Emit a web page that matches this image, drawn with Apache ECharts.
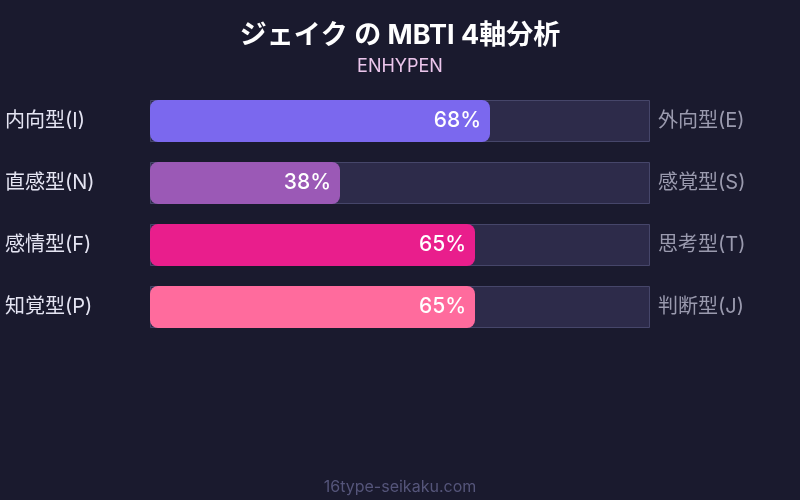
<!DOCTYPE html>
<html>
<head>
<meta charset="utf-8">
<script src="https://cdn.jsdelivr.net/npm/echarts@6/dist/echarts.min.js"></script>
<style>
html,body{margin:0;padding:0;background:#1a1a2e;}
#chart{width:800px;height:500px;}
</style>
</head>
<body>
<div id="chart"></div>
<script>
const leftLabels = ['内向型(I)', '直感型(N)', '感情型(F)', '知覚型(P)'];
const rightLabels = ['外向型(E)', '感覚型(S)', '思考型(T)', '判断型(J)'];
const values = [68, 38, 65, 65];
const trackValues = [100, 100, 100, 100];
const barColors = ['#7b68ee', '#9b59b6', '#e91e8c', '#ff6b9d'];

const font = 'Inter, "Noto Sans CJK JP", sans-serif';
const chart = echarts.init(document.getElementById('chart'));
chart.setOption({
  backgroundColor: '#1a1a2e',
  animation: false,
  title: [
    {
      text: 'ジェイク の MBTI 4軸分析',
      left: 'center', top: 17,
      textStyle: { color: '#ffffff', fontSize: 27, fontWeight: 'bold', fontFamily: font }
    },
    {
      text: 'ENHYPEN',
      left: 'center', top: 53,
      textStyle: { color: '#ecc6ec', fontSize: 18, fontWeight: 'normal', fontFamily: font }
    },
    {
      text: '16type-seikaku.com',
      left: 'center', top: 474,
      textStyle: { color: '#55557a', fontSize: 16, fontWeight: 'normal', fontFamily: font }
    }
  ],
  grid: { left: 150, right: 150, top: 90, height: 248 },
  xAxis: { type: 'value', min: 0, max: 100, show: false },
  yAxis: [
    {
      type: 'category', data: leftLabels, inverse: true,
      axisLine: { show: false }, axisTick: { show: false },
      axisLabel: { align: 'left', margin: 145, color: '#e4e4f2', fontSize: 20, fontFamily: font, padding: [0, 0, 3, 0] }
    },
    {
      type: 'category', data: rightLabels, inverse: true, position: 'right',
      axisLine: { show: false }, axisTick: { show: false },
      axisLabel: { align: 'left', margin: 8, color: '#9a9aae', fontSize: 20, fontFamily: font, padding: [0, 0, 3, 0] }
    }
  ],
  series: [
    {
      type: 'bar', data: trackValues, barWidth: 42, silent: true,
      itemStyle: { color: '#2d2b4a', borderColor: '#46466a', borderWidth: 1 }
    },
    {
      type: 'bar', data: values.map((v, i) => ({ value: v, itemStyle: { color: barColors[i] } })),
      barWidth: 42, barGap: '-100%',
      itemStyle: { borderRadius: 8 },
      label: {
        show: true, position: 'insideRight', distance: 9,
        formatter: '{c}%', color: '#ffffff', fontSize: 21, fontWeight: 500, fontFamily: font
      }
    }
  ]
});
</script>
</body>
</html>
